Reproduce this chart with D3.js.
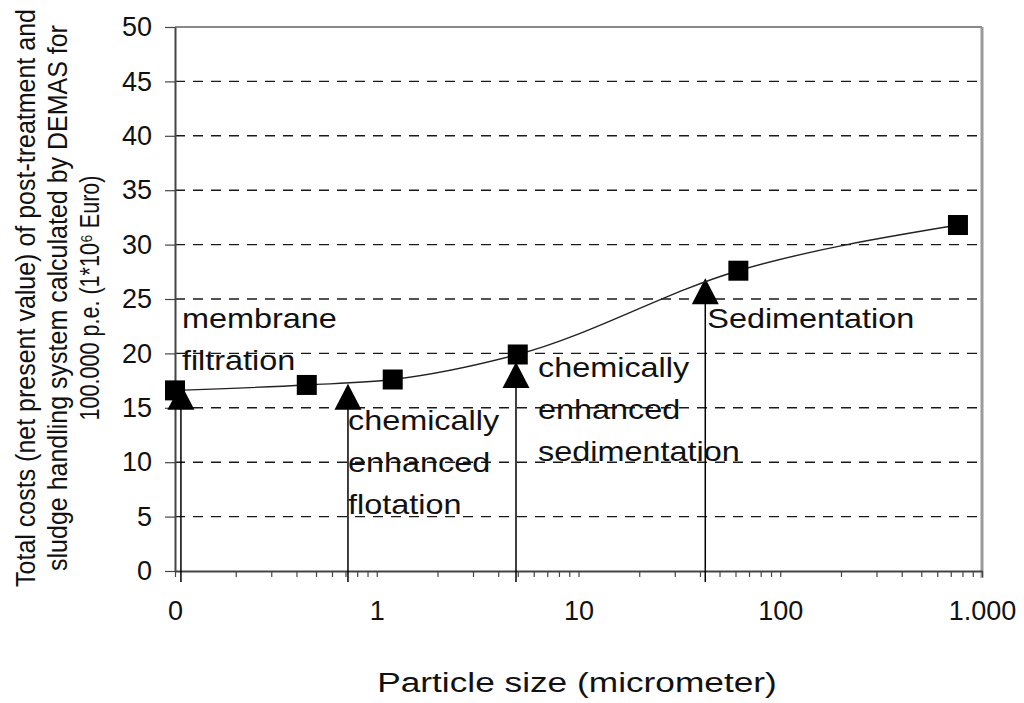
<!DOCTYPE html>
<html>
<head>
<meta charset="utf-8">
<script src="https://cdn.jsdelivr.net/npm/d3@7"></script>
<style>
  body { margin: 0; background: #fff; }
  svg { display: block; font-family: "Liberation Sans", Arial, sans-serif; }
</style>
</head>
<body>
<svg width="1024" height="703"></svg>
<script>
// data
var sizes = [0.1, 0.45, 1.2, 5, 62, 760];           // micrometer
var costs = [16.6, 17.1, 17.6, 19.9, 27.6, 31.8];   // 1*10^6 Euro

var processes = [
  ["membrane", "filtration"],
  ["chemically", "enhanced", "flotation"],
  ["chemically", "enhanced", "sedimentation"],
  ["Sedimentation"]
];
var processSizes = [0.107, 0.72, 4.9, 42.5];
var processCosts = [17.2, 17.2, 19.2, 26.9];

var xTickLabels = { 0.1: "0", 1: "1", 10: "10", 100: "100", 1000: "1.000" };
var yTicks = [0, 5, 10, 15, 20, 25, 30, 35, 40, 45, 50];

var yTitle = [
  "Total costs (net present value) of post-treatment and",
  "sludge handling system calculated by DEMAS for",
  "100.000 p.e. (1*10\u2076 Euro)"
];

// label layout: x offset from arrow, baseline of first line
var labelLayout = [[1, 328], [0, 430], [22, 377], [2, 328]];

var svg = d3.select("svg");
// plot box (note: "top" is reserved on window, so use other names)
var plotLeft = 175, plotRight = 982, plotTop = 27, plotBottom = 571;

var x = d3.scaleLog().domain([0.1, 1000]).range([plotLeft, plotRight]);
var y = d3.scaleLinear().domain([0, 50]).range([plotBottom, plotTop]);

// dashed gridlines
svg.append("g")
  .selectAll("line")
  .data(yTicks.filter(d => d > 0 && d < 50))
  .enter()
  .append("line")
  .attr("x1", plotLeft)
  .attr("x2", plotRight)
  .attr("y1", d => y(d))
  .attr("y2", d => y(d))
  .attr("stroke", "#1a1a1a")
  .attr("stroke-width", 1.4)
  .attr("stroke-dasharray", "10,8");

// frame top and right (grey)
svg.append("line")
  .attr("x1", plotLeft).attr("x2", plotRight)
  .attr("y1", y(50)).attr("y2", y(50))
  .attr("stroke", "#8a8a8a").attr("stroke-width", 2);
svg.append("line")
  .attr("x1", plotRight).attr("x2", plotRight)
  .attr("y1", y(50)).attr("y2", plotBottom + 7)
  .attr("stroke", "#9a9a9a").attr("stroke-width", 3);

// y axis
var yAxis = svg.append("g")
  .attr("transform", "translate(" + plotLeft + ",0)")
  .call(d3.axisLeft(y).tickValues(yTicks).tickSize(10).tickSizeOuter(0).tickPadding(13));
yAxis.select(".domain").attr("stroke", "#444").attr("stroke-width", 2);
yAxis.selectAll(".tick line").attr("stroke", "#444").attr("stroke-width", 1.2);
yAxis.selectAll("text").attr("font-size", 27).attr("fill", "#111");

// x axis (log, minor ticks unlabelled)
var xAxis = svg.append("g")
  .attr("transform", "translate(0," + plotBottom + ")")
  .call(d3.axisBottom(x)
    .tickValues(x.ticks())
    .tickSize(6)
    .tickSizeOuter(0)
    .tickPadding(24)
    .tickFormat(d => xTickLabels[d] || ""));
xAxis.select(".domain").attr("stroke", "#444").attr("stroke-width", 2);
xAxis.selectAll(".tick line").attr("stroke", "#444").attr("stroke-width", 1.2);
xAxis.selectAll("text").attr("font-size", 27).attr("fill", "#111");

// arrows from below the axis up to the curve
svg.append("g")
  .selectAll("line")
  .data(processSizes)
  .enter()
  .append("line")
  .attr("x1", d => x(d))
  .attr("x2", d => x(d))
  .attr("y1", plotBottom + 11)
  .attr("y2", (d, i) => y(processCosts[i]) + 25)
  .attr("stroke", "#000")
  .attr("stroke-width", 1.5);

svg.append("g")
  .selectAll("path")
  .data(processSizes)
  .enter()
  .append("path")
  .attr("d", function(d, i) {
    var px = x(d), py = y(processCosts[i]);
    return "M" + px + "," + py + "L" + (px + 13.5) + "," + (py + 26) + "L" + (px - 13.5) + "," + (py + 26) + "Z";
  })
  .attr("fill", "#000");

// smooth cost curve
var line = d3.line()
  .x(d => x(d[0]))
  .y(d => y(d[1]))
  .curve(d3.curveMonotoneX);

svg.append("path")
  .datum(sizes.map((s, i) => [s, costs[i]]))
  .attr("d", line)
  .attr("fill", "none")
  .attr("stroke", "#222")
  .attr("stroke-width", 1.4);

svg.append("g")
  .selectAll("rect")
  .data(sizes)
  .enter()
  .append("rect")
  .attr("x", d => x(d) - 10)
  .attr("y", (d, i) => y(costs[i]) - 10)
  .attr("width", 20)
  .attr("height", 20)
  .attr("fill", "#000");

// process labels (glyphs look horizontally stretched in the original)
processes.forEach(function(lines, i) {
  var lx = x(processSizes[i]) + labelLayout[i][0];
  lines.forEach(function(t, j) {
    svg.append("text")
      .attr("transform", "translate(" + lx + "," + (labelLayout[i][1] + j * 42) + ") scale(1.2,1)")
      .attr("font-size", 27)
      .attr("fill", "#111")
      .text(t);
  });
});

// axis titles
svg.append("text")
  .attr("transform", "translate(577,692) scale(1.26,1)")
  .attr("text-anchor", "middle")
  .attr("font-size", 28)
  .attr("fill", "#111")
  .text("Particle size (micrometer)");

var yt = svg.append("g")
  .attr("transform", "translate(0,298) scale(1.12,1) rotate(-90)");
yTitle.forEach(function(t, i) {
  var tx = yt.append("text")
    .attr("x", 0)
    .attr("y", 31 + i * 28.6)
    .attr("text-anchor", "middle")
    .attr("font-size", 25)
    .attr("fill", "#111")
    .text(t);
  // last line is a bit tighter in the original
  if (i == 2) tx.attr("textLength", 245).attr("lengthAdjust", "spacingAndGlyphs");
});
</script>
</body>
</html>
